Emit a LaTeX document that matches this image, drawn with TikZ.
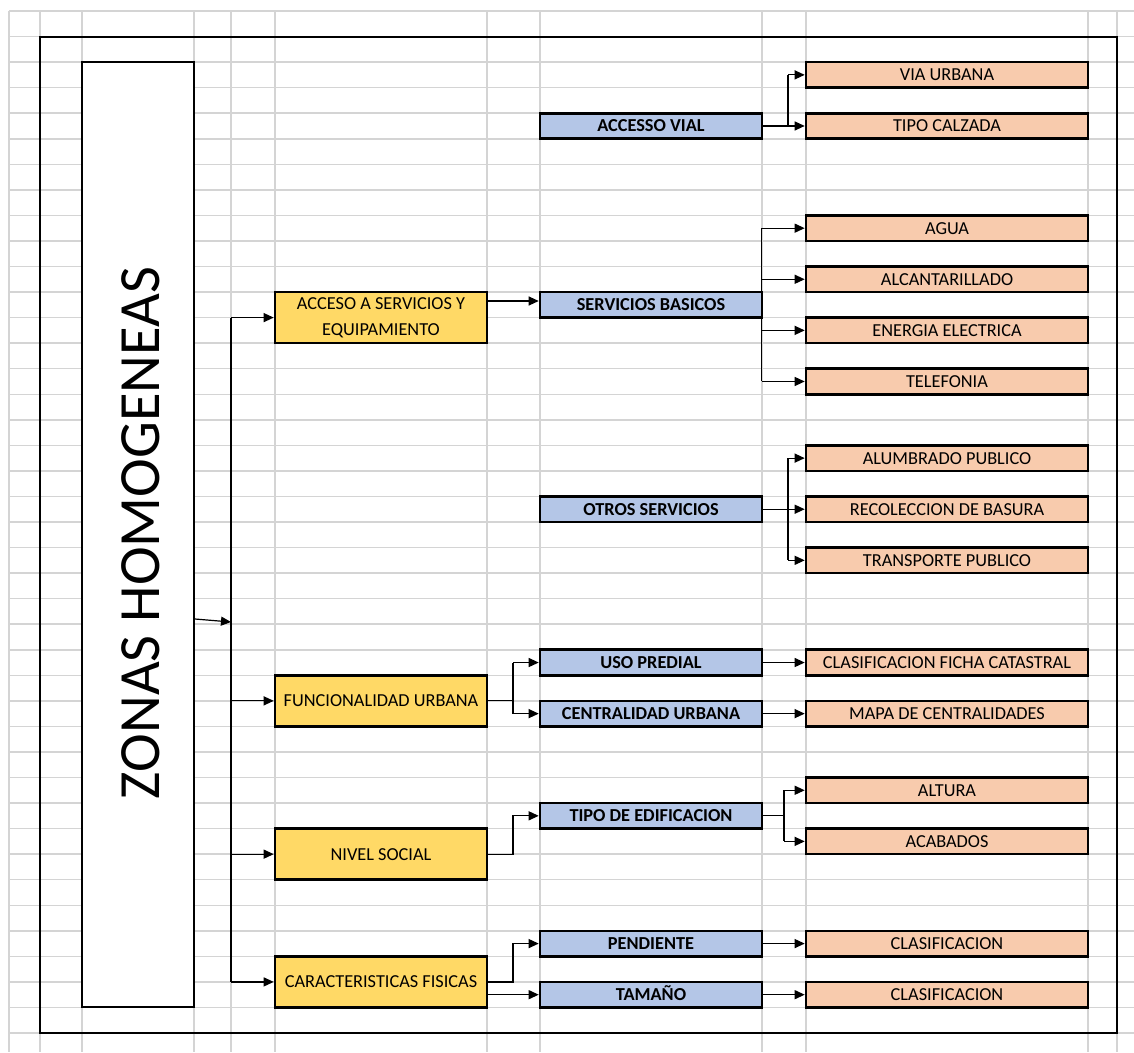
\documentclass[tikz,border=0pt]{standalone}
\usepackage{fontspec}
\setmainfont{Carlito}
\usetikzlibrary{arrows.meta}
\definecolor{gridgray}{HTML}{D4D4D4}
\definecolor{amarillo}{HTML}{FFD966}
\definecolor{azul}{HTML}{B4C6E7}
\definecolor{naranja}{HTML}{F8CBAD}
\tikzset{
  caja/.style={draw, line width=2.6pt, inner sep=0pt, font=\fontsize{18.3pt}{25.5pt}\selectfont},
  nivel1/.style={caja, fill=amarillo, minimum width=212pt, minimum height=51.1pt, align=center},
  nivel2/.style={caja, fill=azul, minimum width=222pt, minimum height=25.55pt, font=\fontsize{18.3pt}{25.5pt}\selectfont\bfseries, text height=11.8pt, text depth=0pt},
  nivel3/.style={caja, fill=naranja, minimum width=282pt, minimum height=25.55pt, text height=11.8pt, text depth=0pt},
  conn/.style={line width=1.2pt},
  arr/.style={conn, -{Triangle[length=10pt,width=9pt]}}
}
\begin{document}
\begin{tikzpicture}[x=1pt,y=-1pt]
\fill[white] (0,0) rectangle (1134,1052);
\useasboundingbox (0,0) rectangle (1134,1052);

\foreach \x in {9,40,82,194,231,275,487,540,762,806,1088,1117}
  \draw[gridgray, line width=1.5pt] (\x,11) -- (\x,1052);
\foreach \k in {0,...,40}
  \draw[gridgray, line width=1.5pt] (9,11+25.55*\k) -- (1134,11+25.55*\k);

\draw[line width=2pt] (40,36.55) rectangle (1117,1033);

\node[draw, fill=white, line width=2pt, minimum width=112pt, minimum height=945.35pt, inner sep=0pt] (zonas) at (138,534.8) {};
\node[rotate=90, font=\fontsize{58.4pt}{60pt}\selectfont] (titulo) at (141,533) {ZONAS HOMOGENEAS};

\node[nivel1] (acc) at (381,317.6) {ACCESO A SERVICIOS Y\\EQUIPAMIENTO};
\node[nivel1] (fun) at (381,700.85) {FUNCIONALIDAD URBANA};
\node[nivel1] (niv) at (381,854.15) {NIVEL SOCIAL};
\node[nivel1] (car) at (381,981.9) {CARACTERISTICAS FISICAS};

\node[nivel2] (av) at (651,125.975) {ACCESSO VIAL};
\node[nivel2] (ser) at (651,304.825) {SERVICIOS BASICOS};
\node[nivel2] (otr) at (651,509.225) {OTROS SERVICIOS};
\node[nivel2] (uso) at (651,662.525) {USO PREDIAL};
\node[nivel2] (cen) at (651,713.625) {CENTRALIDAD URBANA};
\node[nivel2] (tip) at (651,815.825) {TIPO DE EDIFICACION};
\node[nivel2] (pen) at (651,943.575) {PENDIENTE};
\node[nivel2] (tam) at (651,994.675) {TAMAÑO};

\node[nivel3] (via) at (947,74.875) {VIA URBANA};
\node[nivel3] (cal) at (947,125.975) {TIPO CALZADA};
\node[nivel3] (agu) at (947,228.175) {AGUA};
\node[nivel3] (alc) at (947,279.275) {ALCANTARILLADO};
\node[nivel3] (ene) at (947,330.375) {ENERGIA ELECTRICA};
\node[nivel3] (tel) at (947,381.475) {TELEFONIA};
\node[nivel3] (alu) at (947,458.125) {ALUMBRADO PUBLICO};
\node[nivel3] (rec) at (947,509.225) {RECOLECCION DE BASURA};
\node[nivel3] (tra) at (947,560.325) {TRANSPORTE PUBLICO};
\node[nivel3] (fic) at (947,662.525) {CLASIFICACION FICHA CATASTRAL};
\node[nivel3] (map) at (947,713.625) {MAPA DE CENTRALIDADES};
\node[nivel3] (alt) at (947,790.275) {ALTURA};
\node[nivel3] (aca) at (947,841.375) {ACABADOS};
\node[nivel3] (cl1) at (947,943.575) {CLASIFICACION};
\node[nivel3] (cl2) at (947,994.675) {CLASIFICACION};

\coordinate (tronco) at (231,622);
\coordinate (r1) at (788,0);
\coordinate (r2) at (513,0);
\coordinate (r3) at (784,0);
\coordinate (r4) at (761.5,0);

\draw[arr] (zonas.east |- 0,619) -- (tronco);
\draw[conn] (tronco |- acc.west) -- (tronco |- car.west);
\foreach \n in {acc,fun,niv,car}
  \draw[arr] (tronco |- \n.west) -- (\n.west);

\draw[arr] (acc.east |- 0,301) -- (ser.west |- 0,301);
\draw[conn] (r4 |- agu.west) -- (r4 |- tel.west);
\foreach \n in {agu,alc,ene,tel}
  \draw[arr] (r4 |- \n.west) -- (\n.west);

\draw[conn] (av.east) -- (r1 |- av.east) -- (r1 |- via.west);
\draw[arr] (r1 |- via.west) -- (via.west);
\draw[arr] (r1 |- cal.west) -- (cal.west);

\draw[conn] (otr.east) -- (r1 |- otr.east);
\draw[conn] (r1 |- alu.west) -- (r1 |- tra.west);
\foreach \n in {alu,rec,tra}
  \draw[arr] (r1 |- \n.west) -- (\n.west);

\draw[conn] (fun.east) -- (r2 |- fun.east);
\draw[conn] (r2 |- uso.west) -- (r2 |- cen.west);
\draw[arr] (r2 |- uso.west) -- (uso.west);
\draw[arr] (r2 |- cen.west) -- (cen.west);
\draw[arr] (uso.east) -- (fic.west);
\draw[arr] (cen.east) -- (map.west);

\draw[arr] (niv.east) -| (r2 |- tip.west) -- (tip.west);
\draw[conn] (tip.east) -- (r3 |- tip.east);
\draw[conn] (r3 |- alt.west) -- (r3 |- aca.west);
\draw[arr] (r3 |- alt.west) -- (alt.west);
\draw[arr] (r3 |- aca.west) -- (aca.west);

\draw[arr] (car.east) -| (r2 |- pen.west) -- (pen.west);
\draw[arr] (car.east |- tam.west) -- (tam.west);
\draw[arr] (pen.east) -- (cl1.west);
\draw[arr] (tam.east) -- (cl2.west);
\end{tikzpicture}
\end{document}
